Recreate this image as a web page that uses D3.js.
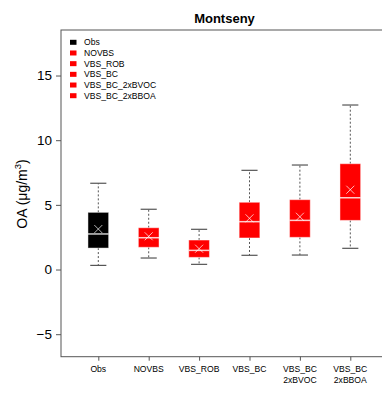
<!DOCTYPE html>
<html><head><meta charset="utf-8">
<script src="https://cdn.jsdelivr.net/npm/d3@7"></script>
<style>body{margin:0;background:#fff}svg{display:block;font-family:"Liberation Sans",Arial,sans-serif}</style>
</head><body><svg id="c" width="382" height="394"></svg>
<script>
const categories = ["Obs","NOVBS","VBS_ROB","VBS_BC","VBS_BC_2xBVOC","VBS_BC_2xBBOA"];
const tickLabels = [["Obs"],["NOVBS"],["VBS_ROB"],["VBS_BC"],["VBS_BC","2xBVOC"],["VBS_BC","2xBBOA"]];
const whiskerLow = [0.32, 0.89, 0.40, 1.10, 1.12, 1.64];
const q1 = [1.66, 1.72, 0.94, 2.44, 2.49, 3.80];
const median = [2.75, 2.46, 1.48, 3.70, 3.80, 5.55];
const q3 = [4.42, 3.23, 2.28, 5.20, 5.40, 8.18];
const whiskerHigh = [6.67, 4.66, 3.11, 7.67, 8.08, 12.72];
const meanVal = [3.13, 2.57, 1.61, 3.96, 4.08, 6.17];
const colors = ["#000000","#ff0000","#ff0000","#ff0000","#ff0000","#ff0000"];
const yTicks = [-5, 0, 5, 10, 15];

const svg = d3.select("#c");
const x = d3.scaleLinear().domain([0.26, 6.74]).range([61, 387.6]);
const y = d3.scaleLinear().domain([-6.74, 18.52]).range([356.7, 30]);
const axisCol = "#555";

// frame (left, top, bottom; right off-canvas)
svg.append("rect").attr("x", x(0.26)).attr("y", y(18.52)).attr("width", x(6.74)-x(0.26)).attr("height", y(-6.74)-y(18.52))
  .attr("fill","none").attr("stroke",axisCol).attr("stroke-width",1);

// y axis
const yAxis = d3.axisLeft(y).tickValues(yTicks).tickSize(5).tickPadding(4).tickFormat(d => d < 0 ? "\u2212" + Math.abs(d) : d);
const ya = svg.append("g").attr("transform", `translate(${x(0.26)},0)`).call(yAxis);
ya.select(".domain").remove();
ya.selectAll("line").attr("stroke", axisCol);
ya.selectAll("text").attr("font-size", 13.5).attr("fill","#000").attr("font-family","Liberation Sans, Arial, sans-serif");

// x axis
const xAxis = d3.axisBottom(x).tickValues(d3.range(1, categories.length+1)).tickSize(4).tickFormat("");
const xa = svg.append("g").attr("transform", `translate(0,${y(-6.74)})`).call(xAxis);
xa.select(".domain").remove();
xa.selectAll("line").attr("stroke", axisCol);
tickLabels.forEach((lines, i) => {
  const t = svg.append("text").attr("text-anchor","middle").attr("font-size",8.6).attr("fill","#000");
  lines.forEach((l, j) => t.append("tspan").attr("x", x(i+1)).attr("y", 372.3 + j*10.2).text(l));
});

// boxes
const bw = 0.41, cw = 0.32;
categories.forEach((c, i) => {
  const cx = x(i+1);
  const g = svg.append("g");
  // whiskers
  g.append("line").attr("x1",cx).attr("x2",cx).attr("y1",y(q3[i])).attr("y2",y(whiskerHigh[i]))
    .attr("stroke",axisCol).attr("stroke-dasharray","2,2").attr("stroke-width",1);
  g.append("line").attr("x1",cx).attr("x2",cx).attr("y1",y(q1[i])).attr("y2",y(whiskerLow[i]))
    .attr("stroke",axisCol).attr("stroke-dasharray","2,2").attr("stroke-width",1);
  // caps
  [whiskerLow[i], whiskerHigh[i]].forEach(v => {
    g.append("line").attr("x1", x(i+1-cw/2)).attr("x2", x(i+1+cw/2)).attr("y1", y(v)).attr("y2", y(v))
      .attr("stroke", axisCol).attr("stroke-width", 1.2);
  });
  // box
  g.append("rect").attr("x", x(i+1-bw/2)).attr("width", x(i+1+bw/2)-x(i+1-bw/2))
    .attr("y", y(q3[i])).attr("height", y(q1[i]) - y(q3[i]))
    .attr("fill", colors[i]).attr("stroke", "rgba(255,255,255,0.45)").attr("stroke-width", 1);
  // median
  g.append("line").attr("x1", x(i+1-bw/2)).attr("x2", x(i+1+bw/2)).attr("y1", y(median[i])).attr("y2", y(median[i]))
    .attr("stroke", "rgba(255,255,255,0.8)").attr("stroke-width", 1.5);
  // mean X
  const my = y(meanVal[i]), s = 4;
  g.append("path").attr("d", `M${cx-s},${my-s}L${cx+s},${my+s}M${cx-s},${my+s}L${cx+s},${my-s}`)
    .attr("stroke", "rgba(255,255,255,0.7)").attr("stroke-width", 1);
});

// title
svg.append("text").attr("x", 224.5).attr("y", 23).attr("text-anchor","middle").attr("font-size",13).attr("font-weight","bold").text("Montseny");

// y label
const yl = svg.append("text").attr("transform","translate(26.5,194) rotate(-90)").attr("text-anchor","middle").attr("font-size",14);
yl.append("tspan").text("OA (\u03bcg/m");
yl.append("tspan").attr("font-size",9.5).attr("dy",-6).text("3");
yl.append("tspan").attr("dy",6).text(")");

// legend
categories.forEach((c, i) => {
  const ly = 42.3 + i*10.68;
  svg.append("rect").attr("x", 70).attr("y", ly-2.5).attr("width", 6.5).attr("height", 5).attr("fill", colors[i]);
  svg.append("text").attr("x", 84).attr("y", ly+3).attr("font-size", 8.6).text(c);
});
</script></body></html>
